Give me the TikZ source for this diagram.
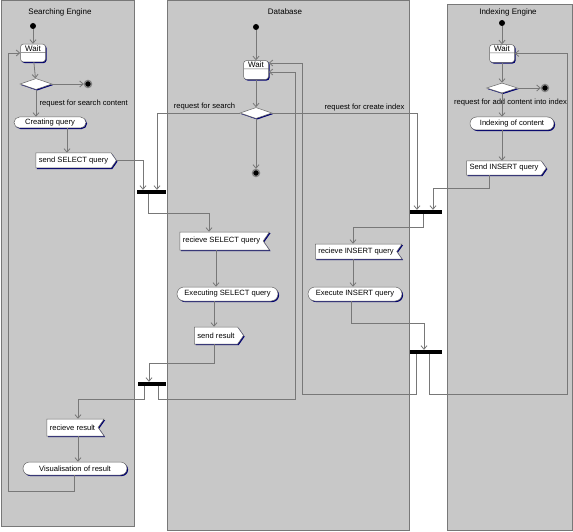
\documentclass[tikz,border=0pt]{standalone}
\usepackage{fontspec}
\setmainfont{Liberation Sans}
\usepackage{xcolor}
\definecolor{lanegray}{RGB}{200,200,200}
\definecolor{edgegray}{RGB}{120,120,120}
\definecolor{umlnavy}{RGB}{0,0,112}
\usepackage{tikz}
\usetikzlibrary{shapes.geometric, shapes.misc, shapes.symbols, shapes.multipart,
                arrows.meta, positioning, shadows}

\begin{document}
\begin{tikzpicture}[x=1pt, y=-1pt,
  font=\fontsize{7.6}{9}\selectfont,
  lane/.style={rectangle, fill=lanegray, draw=edgegray, line width=0.8pt, inner sep=0pt, anchor=north west},
  lanetitle/.style={font=\fontsize{8}{9}\selectfont},
  shd/.style={drop shadow={shadow xshift=1.1pt, shadow yshift=-1.1pt, fill=umlnavy, opacity=1}},
  act/.style={rounded rectangle, draw=black!60, fill=white, line width=0.5pt, inner sep=1pt, shd},
  sendsig/.style={signal, signal to=east, signal pointer angle=110, draw=black!60, fill=white,
                  line width=0.5pt, inner xsep=3pt, inner ysep=2pt, shd},
  recvsig/.style={signal, signal to=nowhere, signal from=east, signal pointer angle=110, draw=black!60,
                  fill=white, line width=0.5pt, inner xsep=3pt, inner ysep=2pt, shd},
  waitst/.style={rectangle split, rectangle split parts=2, rounded corners=3pt, draw=black!60,
                 fill=white, line width=0.5pt, text width=22pt, align=center, inner xsep=1.5pt,
                 inner ysep=1pt, font=\fontsize{8}{9}\selectfont, shd},
  dec/.style={diamond, draw=black!60, fill=white, line width=0.5pt, minimum width=32pt,
              minimum height=11pt, inner sep=0pt, shd},
  startpt/.style={circle, fill=black, inner sep=0pt, minimum size=6pt},
  endpt/.style={circle, fill=black, draw=gray, line width=1.4pt, inner sep=0pt, minimum size=7pt},
  bar/.style={rectangle, fill=black, inner sep=0pt, minimum height=4pt},
  flow/.style={-{Straight Barb[length=3.5pt, width=6pt]}, draw=edgegray, line width=0.8pt}
]
\useasboundingbox (0,0) rectangle (573,532);

% swimlanes
\node[lane, minimum width=133pt, minimum height=525pt] (lsearch) at (0.5,0.5) {};
\node[lane, minimum width=242pt, minimum height=529pt] (ldb) at (167,0.5) {};
\node[lane, minimum width=125pt, minimum height=526pt] (lidx) at (447,4) {};
\node[lanetitle] (tsearch) at (60,12) {Searching Engine};
\node[lanetitle] (tdb) at (285,12) {Database};
\node[lanetitle] (tidx) at (508,12) {Indexing Engine};

% searching engine
\node[startpt] (s0) at (33,26) {};
\node[waitst] (sw) at (33,53) {Wait\nodepart{two}\rule{0pt}{7pt}};
\node[dec] (sd) at (36,84) {};
\node[endpt] (se) at (88,84) {};
\node[anchor=west] (lsd) at (36,104) {request for search content};
\node[act, minimum width=74pt, minimum height=11pt] (scq) at (50,122.5) {Creating query};
\node[sendsig, minimum height=15pt] (ssq) at (73.5,160.5) {send SELECT query};
\node[recvsig, minimum height=17pt] (srr) at (72.5,427.5) {recieve result};
\node[act, minimum width=106pt, minimum height=13pt] (svr) at (75,468.5) {Visualisation of result};
\coordinate (sloop) at (8,491);

% database
\node[startpt] (d0) at (256,27) {};
\node[waitst] (dw) at (256,70) {Wait\nodepart{two}\rule{0pt}{8pt}};
\node[dec] (dd) at (256,113) {};
\node[endpt] (de) at (256,173) {};
\node (ldsearch) at (204.5,107) {request for search};
\node (ldindex) at (364.5,108) {request for create index};
\node[recvsig, minimum height=18pt] (drsq) at (221.5,241) {recieve SELECT query};
\node[act, minimum width=103pt, minimum height=14pt] (desq) at (227.5,294) {Executing SELECT query};
\node[sendsig, minimum height=17pt] (dsr) at (216,335.5) {send result};
\node[recvsig, minimum height=15pt] (driq) at (356,251.5) {recieve INSERT query};
\node[act, minimum width=96pt, minimum height=14pt] (deiq) at (355,294) {Execute INSERT query};

% indexing engine
\node[startpt] (i0) at (502,23) {};
\node[waitst] (iw) at (502,53.5) {Wait\nodepart{two}\rule{0pt}{7pt}};
\node[dec, minimum width=31pt, minimum height=10pt] (id) at (502,88) {};
\node[endpt] (ie) at (545,88) {};
\node (lid) at (510.5,103) {request for add content into index};
\node[act, minimum width=86pt, minimum height=13pt] (iic) at (512,123.5) {Indexing of content};
\node[sendsig, minimum height=14pt] (isiq) at (504,168) {Send INSERT query};

% synchronisation bars
\node[bar, minimum width=29pt] (b1) at (151.5,192) {};
\node[bar, minimum width=28pt] (b2) at (152,384) {};
\node[bar, minimum width=32pt] (b3) at (426,212) {};
\node[bar, minimum width=32pt] (b4) at (426,352) {};

% searching flows
\draw[flow] (s0) -- (sw);
\draw[flow] (sw) -- (sd);
\draw[flow] (sd) -- (se);
\draw[flow] (sd.south) -- (sd.south |- scq.north);
\draw[flow] ([xshift=17pt]scq.south) -- ([xshift=17pt]scq.south |- ssq.north);
\draw[flow] (ssq.east) -| ([xshift=-8.5pt]b1.north);
\draw[flow] ([xshift=5.5pt]srr.south) -- ([xshift=5.5pt]srr.south |- svr.north);
\draw[flow] ([xshift=-1pt]svr.south) |- (sloop) |- (sw.west);

% database flows
\draw[flow] (d0) -- (dw);
\draw[flow] (dw) -- (dd);
\draw[flow] (dd) -- (de);
\draw[flow] (dd.west) -| ([xshift=5.5pt]b1.north);
\draw[flow] (dd.east) -| ([xshift=-9pt]b3.north);
\draw[flow] ([xshift=-3.5pt]b1.south) -- ++(0,19) -| ([xshift=-12.5pt]drsq.north);
\draw[flow] ([xshift=-5.5pt]drsq.south) -- ([xshift=-5.5pt]drsq.south |- desq.north);
\draw[flow] ([xshift=-13.5pt]desq.south) -- ([xshift=-13.5pt]desq.south |- dsr.north);
\draw[flow] ([xshift=-2pt]dsr.south) -- ++(0,19) -| ([xshift=-3pt]b2.north);
\draw[flow] ([xshift=-8pt]b2.south) -- ++(0,13) -| ([xshift=5.5pt]srr.north);
\draw[flow] ([xshift=6pt]b2.south) -- ++(0,13) -| ([xshift=27pt,yshift=-2pt]dw.east) -- ([yshift=-2pt]dw.east);
\draw[flow] ([xshift=-3pt]b3.south) -- ++(0,13) -| ([xshift=-3pt]driq.north);
\draw[flow] ([xshift=-3pt]driq.south) -- ([xshift=-3pt]driq.south |- deiq.north);
\draw[flow] ([xshift=-4pt]deiq.south) -- ++(0,22) -| ([xshift=-2pt]b4.north);
\draw[flow] ([xshift=-10pt]b4.south) -- ++(0,40) -| ([xshift=34pt,yshift=7pt]dw.east) -- ([yshift=7pt]dw.east);

% indexing flows
\draw[flow] (i0) -- (iw);
\draw[flow] (iw) -- (id);
\draw[flow] (id) -- (ie);
\draw[flow] (id.south) -- (id.south |- iic.north);
\draw[flow] ([xshift=-10pt]iic.south) -- ([xshift=-10pt]iic.south |- isiq.north);
\draw[flow] ([xshift=-15pt]isiq.south) -- ++(0,13) -| ([xshift=7pt]b3.north);
\draw[flow] ([xshift=3pt]b4.south) -- ++(0,40) -| ([xshift=53pt]iw.east) -- (iw.east);
\end{tikzpicture}
\end{document}
